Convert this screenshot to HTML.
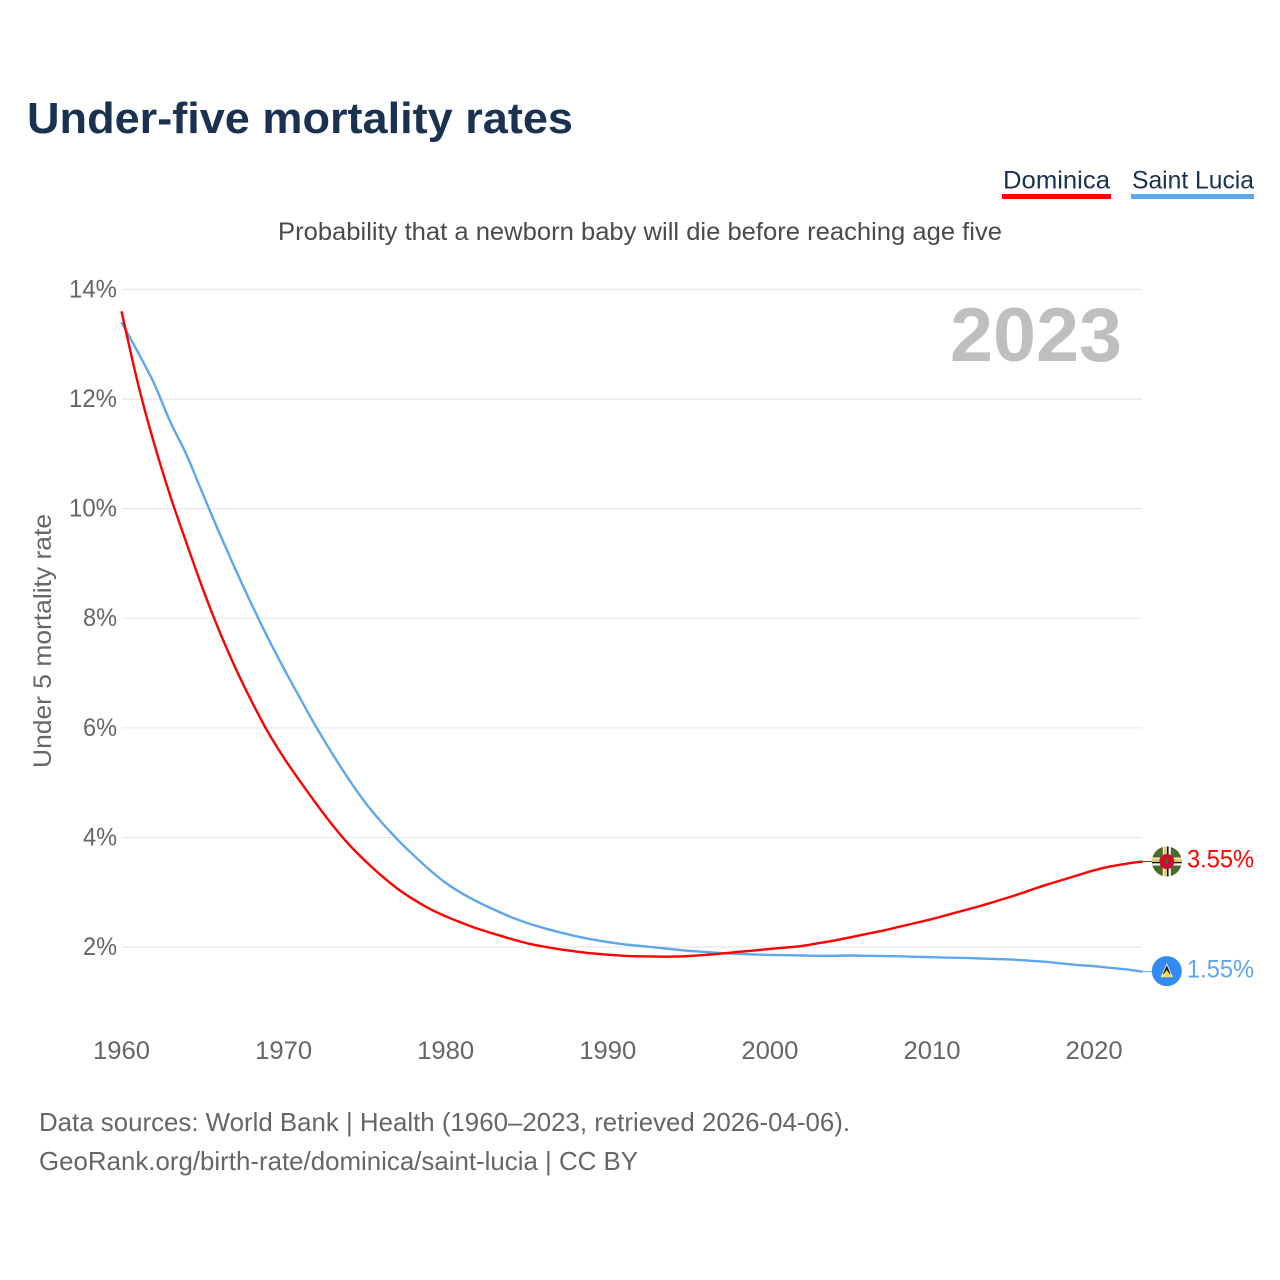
<!DOCTYPE html>
<html><head><meta charset="utf-8"><title>Under-five mortality rates</title>
<style>
html,body{margin:0;padding:0;background:#fff}
svg{display:block}
text{font-family:"Liberation Sans",sans-serif}
</style></head>
<body>
<svg id="chart" width="1280" height="1280" viewBox="0 0 1280 1280" xmlns="http://www.w3.org/2000/svg">
<rect width="1280" height="1280" fill="#fff"/>
<text x="27" y="133" font-size="44" font-weight="700" fill="#1a3150" textLength="546" lengthAdjust="spacingAndGlyphs">Under-five mortality rates</text>
<g>
<text x="1003" y="188.5" font-size="25" fill="#1a3150" textLength="107" lengthAdjust="spacingAndGlyphs">Dominica</text>
<rect x="1002" y="194" width="109" height="5" fill="#ff0000"/>
<text x="1132" y="188.5" font-size="25" fill="#1a3150" textLength="122" lengthAdjust="spacingAndGlyphs">Saint Lucia</text>
<rect x="1131" y="194" width="123" height="5" fill="#5ea6ee"/>
</g>
<text x="640" y="240" font-size="25" fill="#4a4a4a" text-anchor="middle" textLength="724" lengthAdjust="spacingAndGlyphs">Probability that a newborn baby will die before reaching age five</text>
<g id="grid"></g>
<text x="1122" y="361" font-size="76" font-weight="700" fill="#bfbfbf" text-anchor="end" textLength="172" lengthAdjust="spacingAndGlyphs">2023</text>
<g id="yticks"></g>
<g id="xticks"></g>
<text transform="translate(51,641) rotate(-90)" font-size="25" fill="#666" text-anchor="middle" textLength="254" lengthAdjust="spacingAndGlyphs">Under 5 mortality rate</text>
<g id="series"></g>
<g id="ends"></g>
<text x="39" y="1131" font-size="26" fill="#666" textLength="811" lengthAdjust="spacingAndGlyphs">Data sources: World Bank | Health (1960–2023, retrieved 2026-04-06).</text>
<text x="39" y="1170" font-size="26" fill="#666" textLength="599" lengthAdjust="spacingAndGlyphs">GeoRank.org/birth-rate/dominica/saint-lucia | CC BY</text>
</svg>
<script>
const startYear = 1960;
const yTicks = [2, 4, 6, 8, 10, 12, 14];
const xTicks = [1960, 1970, 1980, 1990, 2000, 2010, 2020];
const dominica = [13.6,12.3,11.2,10.24,9.38,8.55,7.79,7.11,6.5,5.94,5.46,5.03,4.62,4.23,3.88,3.58,3.31,3.07,2.87,2.7,2.56,2.44,2.33,2.24,2.15,2.07,2.01,1.96,1.92,1.885,1.86,1.84,1.83,1.825,1.825,1.835,1.855,1.88,1.91,1.935,1.965,1.99,2.02,2.07,2.12,2.18,2.24,2.3,2.37,2.44,2.51,2.59,2.67,2.75,2.84,2.93,3.03,3.13,3.22,3.31,3.4,3.47,3.52,3.56];
const saintLucia = [13.4,12.86,12.29,11.59,10.99,10.28,9.58,8.91,8.27,7.66,7.09,6.55,6.02,5.53,5.07,4.65,4.29,3.97,3.68,3.41,3.17,2.98,2.82,2.68,2.55,2.44,2.35,2.27,2.2,2.14,2.09,2.05,2.02,1.99,1.96,1.93,1.91,1.89,1.875,1.865,1.855,1.85,1.845,1.84,1.84,1.845,1.84,1.835,1.83,1.82,1.815,1.805,1.8,1.79,1.78,1.77,1.75,1.73,1.7,1.67,1.65,1.62,1.59,1.55];
const dominicaLabel = '3.55%';
const saintLuciaLabel = '1.55%';

const NS = 'http://www.w3.org/2000/svg';
const xScale = function (year) { return 121.5 + (year - 1960) * 16.21; };
const yScale = function (v) { return 947 - (v - 2) * 54.8; };
function mk(parent, tag, attrs, text) {
  const el = document.createElementNS(NS, tag);
  for (const k in attrs) el.setAttribute(k, attrs[k]);
  if (text !== undefined) el.textContent = text;
  parent.appendChild(el);
  return el;
}
const grid = document.getElementById('grid');
const yG = document.getElementById('yticks');
const xG = document.getElementById('xticks');
yTicks.forEach(function (t) {
  const line = mk(grid, 'line', {x1: 122, x2: 1142, y1: yScale(t), y2: yScale(t), stroke: '#e8e8e8', 'stroke-width': 1.2});
  
  
  const label = mk(yG, 'text', {x: 117, y: yScale(t) + 8, 'font-size': 25, fill: '#666', 'text-anchor': 'end', textLength: t >= 10 ? 48 : 34, lengthAdjust: 'spacingAndGlyphs'}, t + '%');
  
  
});
xTicks.forEach(function (t) {
  const label = mk(xG, 'text', {x: xScale(t), y: 1059, 'font-size': 25, fill: '#666', 'text-anchor': 'middle', textLength: 57, lengthAdjust: 'spacingAndGlyphs'}, String(t));
  
  
});
function pathFor(vals) {
  const pts = vals.map(function (v, i) { return [xScale(startYear + i), yScale(v)]; });
  let d = 'M' + pts[0][0].toFixed(2) + ' ' + pts[0][1].toFixed(2);
  for (let i = 0; i < pts.length - 1; i++) {
    const p0 = pts[Math.max(i - 1, 0)], p1 = pts[i], p2 = pts[i + 1], p3 = pts[Math.min(i + 2, pts.length - 1)];
    d += ' C' + (p1[0] + (p2[0] - p0[0]) / 6).toFixed(2) + ' ' + (p1[1] + (p2[1] - p0[1]) / 6).toFixed(2) +
         ' ' + (p2[0] - (p3[0] - p1[0]) / 6).toFixed(2) + ' ' + (p2[1] - (p3[1] - p1[1]) / 6).toFixed(2) +
         ' ' + p2[0].toFixed(2) + ' ' + p2[1].toFixed(2);
  }
  return d;
}
const seriesG = document.getElementById('series');
const lineLucia = mk(seriesG, 'path', {d: pathFor(saintLucia), fill: 'none', stroke: '#5ea6ee', 'stroke-width': 2.4, 'stroke-linejoin': 'round'});


const lineDominica = mk(seriesG, 'path', {d: pathFor(dominica), fill: 'none', stroke: '#ff0000', 'stroke-width': 2.4, 'stroke-linejoin': 'round'});



const ends = document.getElementById('ends');
const lastYear = startYear + dominica.length - 1;
const ex = xScale(lastYear);
const dy = yScale(dominica[dominica.length - 1]);
const ly = yScale(saintLucia[saintLucia.length - 1]);

const conD = mk(ends, 'line', {x1: ex, x2: 1152, y1: dy, y2: dy, stroke: '#ff0000', 'stroke-width': 1});


const conL = mk(ends, 'line', {x1: ex, x2: 1152, y1: ly, y2: ly, stroke: '#5ea6ee', 'stroke-width': 1});



const flagD = mk(ends, 'g', {transform: 'translate(1166.8,' + dy + ')'});


const cp = mk(flagD, 'clipPath', {id: 'clipD'});
mk(cp, 'circle', {r: 15});
const fd = mk(flagD, 'g', {'clip-path': 'url(#clipD)'});
mk(fd, 'rect', {x: -15, y: -15, width: 30, height: 30, fill: '#4b6b2c'});
mk(fd, 'rect', {x: -15, y: -4, width: 30, height: 8, fill: '#fff'});
mk(fd, 'rect', {x: -15, y: -3, width: 30, height: 2.4, fill: '#f0d050'});
mk(fd, 'rect', {x: -15, y: 0.2, width: 30, height: 1.6, fill: '#111'});
mk(fd, 'rect', {x: -4, y: -15, width: 8, height: 30, fill: '#fff'});
mk(fd, 'rect', {x: -3, y: -15, width: 2.4, height: 30, fill: '#f0d050'});
mk(fd, 'rect', {x: 0, y: -15, width: 1.8, height: 30, fill: '#111'});
mk(fd, 'circle', {r: 7.5, fill: '#c8102e'});
mk(fd, 'ellipse', {rx: 1.4, ry: 2.6, fill: '#3f6b2a'});

const flagL = mk(ends, 'g', {transform: 'translate(1166.8,' + (ly - 0.5) + ')'});


mk(flagL, 'circle', {r: 15, fill: '#338af3'});
mk(flagL, 'path', {d: 'M0 -8 L6 6 L-6 6 Z', fill: '#fff'});
mk(flagL, 'path', {d: 'M0 -6 L4 3 L-4 3 Z', fill: '#222'});
mk(flagL, 'path', {d: 'M0 -1 L5.5 6 L-5.5 6 Z', fill: '#ffda44'});

const labD = mk(ends, 'text', {x: 1187, y: dy + 6, 'font-size': 25, fill: '#ff0000', textLength: 67, lengthAdjust: 'spacingAndGlyphs'}, dominicaLabel);


const labL = mk(ends, 'text', {x: 1187, y: ly + 6, 'font-size': 25, fill: '#5ea6ee', textLength: 67, lengthAdjust: 'spacingAndGlyphs'}, saintLuciaLabel);


</script>
</body></html>
